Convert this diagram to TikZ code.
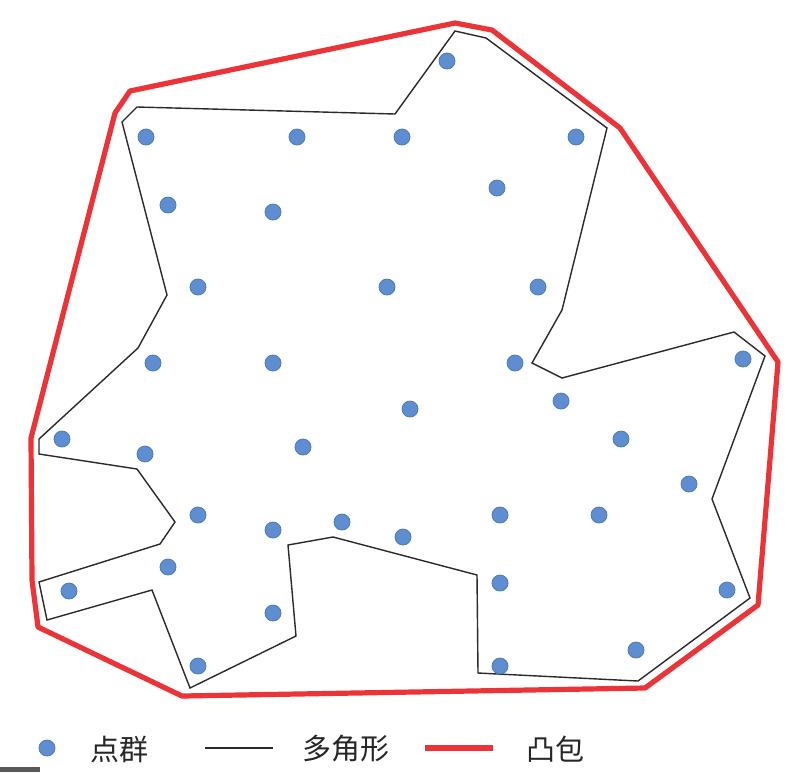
\documentclass[tikz,border=0pt]{standalone}
\usepackage{fontspec}
\newfontfamily\cjk{Noto Sans CJK SC}
\definecolor{dotblue}{HTML}{5E8ECF}
\definecolor{dotedge}{HTML}{4C7BBA}
\definecolor{hullred}{HTML}{EC3338}
\definecolor{polyline}{HTML}{2A2A2A}
\tikzset{
  pt/.style={circle,fill=dotblue,draw=dotedge,line width=0.8pt,minimum size=16pt,inner sep=0pt},
  polyedge/.style={draw=polyline,line width=1.4pt,line join=miter},
  hulledge/.style={draw=hullred,line width=5.2pt,line join=round},
  legtext/.style={font=\cjk\fontsize{29}{30}\selectfont,text=black!85,inner sep=0pt,anchor=center}
}
\begin{document}
\begin{tikzpicture}[x=1pt,y=-1pt]
\useasboundingbox (0,0) rectangle (802,772);
\fill[white] (0,0) rectangle (802,772);
% convex hull
\draw[hulledge] (130,91) -- (455,23) -- (492,30) -- (620,128) -- (778,362) -- (758,605) -- (645,688) -- (182,696) -- (38,627) -- (32,580) -- (31,438) -- (115,113) -- cycle;
% polygon
\draw[polyedge] (137,107) -- (395,114) -- (455,31) -- (486,38) -- (607,128) -- (562,310) -- (532,363) -- (562,378) -- (734,332) -- (765,356) -- (712,499) -- (750,598) -- (638,681) -- (478,673) -- (477,575) -- (333,537) -- (288,545) -- (296,636) -- (190,688) -- (152,590) -- (47,620) -- (39,582) -- (160,544) -- (175,522) -- (137,469) -- (39,454) -- (39,439) -- (138,348) -- (167,295) -- (122,122) -- cycle;
% points
\foreach \n/\x/\y in {1/447/61,2/146/137,3/297/137,4/402/137,5/576/137,6/497/188,7/168/205,8/273/212,9/198/287,10/387/287,11/538/287,12/153/363,13/273/363,14/515/363,15/743/359,16/410/409,17/561/401,18/62/439,19/145/454,20/303/447,21/621/439,22/689/484,23/198/515,24/273/530,25/342/522,26/403/537,27/500/515,28/599/515,29/168/567,30/69/591,31/500/583,32/727/590,33/273/613,34/636/650,35/198/666,36/500/666}
  \node[pt] (p\n) at (\x,\y) {};
% legend
\node[pt] (legdot) at (47,748) {};
\node[legtext] (legpts) at (119,749) {点群};
\coordinate (lpa) at (205,748);
\coordinate (lpb) at (273,748);
\draw[polyedge] (lpa) -- (lpb);
\node[legtext] (legpoly) at (346,749) {多角形};
\coordinate (lha) at (425,748);
\coordinate (lhb) at (493,748);
\draw[hulledge,line cap=butt] (lha) -- (lhb);
\node[legtext] (leghull) at (555,749) {凸包};
\fill[black!65] (0,767) rectangle (40,772);
\end{tikzpicture}
\end{document}
